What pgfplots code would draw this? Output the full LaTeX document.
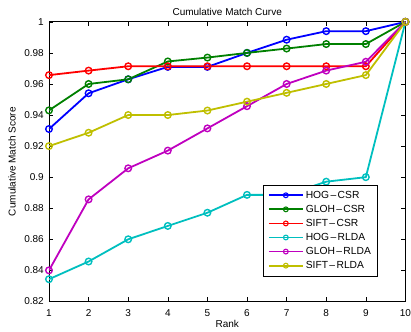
\documentclass[border=0pt]{standalone}
\usepackage{pgfplots}
\pgfplotsset{compat=1.18}
\usepackage{fontspec}
\setmainfont{Liberation Sans}
\definecolor{mb}{rgb}{0,0,1}
\definecolor{mg}{rgb}{0,0.5,0}
\definecolor{mr}{rgb}{1,0,0}
\definecolor{mc}{rgb}{0,0.75,0.75}
\definecolor{mm}{rgb}{0.75,0,0.75}
\definecolor{my}{rgb}{0.75,0.75,0}
\newcommand{\dsh}{\kern1.4pt–\kern1.4pt}
\begin{document}
\begin{tikzpicture}
\begin{axis}[
  scale only axis,
  width=357pt, height=280pt,
  xmin=1, xmax=10, ymin=0.82, ymax=1,
  xtick={1,...,10},
  ytick={0.82,0.84,0.86,0.88,0.9,0.92,0.94,0.96,0.98,1},
  yticklabels={0.82,0.84,0.86,0.88,0.9,0.92,0.94,0.96,0.98,1},
  tick align=inside,
  major tick length=4pt,
  tick style={black, line width=0.6pt},
  axis line style={black, line width=0.8pt},
  /pgf/number format/assume math mode=true,
  ticklabel style={font=\fontsize{10}{12}\selectfont},
  xticklabel style={inner xsep=0pt, yshift=-4.7pt},
  yticklabel style={xshift=-1.7pt},
  label style={font=\fontsize{10}{12}\selectfont},
  xlabel style={at={(axis description cs:0.5,-0.0814)}, anchor=center, inner ysep=3.9pt},
  ylabel style={at={(axis description cs:-0.1036,0.5)}, anchor=center, inner ysep=8.4pt},
  title style={font=\fontsize{10}{12}\selectfont, at={(axis description cs:0.5,1.0136)}, anchor=center, inner ysep=8.4pt},
  title={Cumulative Match Curve},
  xlabel={Rank},
  ylabel={Cumulative Match Score},
  every axis plot/.append style={line width=1.8pt, mark=o, mark size=3.3pt, mark options={line width=1.4pt, solid}},
  legend style={at={(0.599,0.418)}, anchor=north west, draw=black, line width=0.8pt,
    font=\fontsize{10.3}{12}\selectfont, row sep=1.4pt, inner xsep=5pt, inner ysep=4pt},
  legend cell align=left,
  legend image code/.code={\draw[line width=1.8pt, mark repeat=2, mark phase=2, mark size=2.4pt, mark options={line width=1.1pt}] plot coordinates {(0cm,0cm) (0.6cm,0cm) (1.2cm,0cm)};},
]
\addplot[color=mb] coordinates {(1,0.931)(2,0.954)(3,0.963)(4,0.971)(5,0.971)(6,0.980)(7,0.9885)(8,0.994)(9,0.994)(10,1)};
\addlegendentry{HOG\dsh CSR}
\addplot[color=mg] coordinates {(1,0.943)(2,0.960)(3,0.963)(4,0.9745)(5,0.977)(6,0.980)(7,0.9828)(8,0.9857)(9,0.9857)(10,1)};
\addlegendentry{GLOH\dsh CSR}
\addplot[color=mr] coordinates {(1,0.9657)(2,0.9686)(3,0.9714)(4,0.9714)(5,0.9714)(6,0.9714)(7,0.9714)(8,0.9714)(9,0.9714)(10,1)};
\addlegendentry{SIFT\dsh CSR}
\addplot[color=mc] coordinates {(1,0.8343)(2,0.8457)(3,0.860)(4,0.8686)(5,0.8771)(6,0.8886)(7,0.8886)(8,0.8971)(9,0.900)(10,1)};
\addlegendentry{HOG\dsh RLDA}
\addplot[color=mm] coordinates {(1,0.840)(2,0.8857)(3,0.9057)(4,0.9171)(5,0.9314)(6,0.9457)(7,0.960)(8,0.9686)(9,0.9743)(10,1)};
\addlegendentry{GLOH\dsh RLDA}
\addplot[color=my] coordinates {(1,0.920)(2,0.9286)(3,0.940)(4,0.940)(5,0.9429)(6,0.9486)(7,0.9543)(8,0.960)(9,0.9657)(10,1)};
\addlegendentry{SIFT\dsh RLDA}
\end{axis}
\end{tikzpicture}
\end{document}
